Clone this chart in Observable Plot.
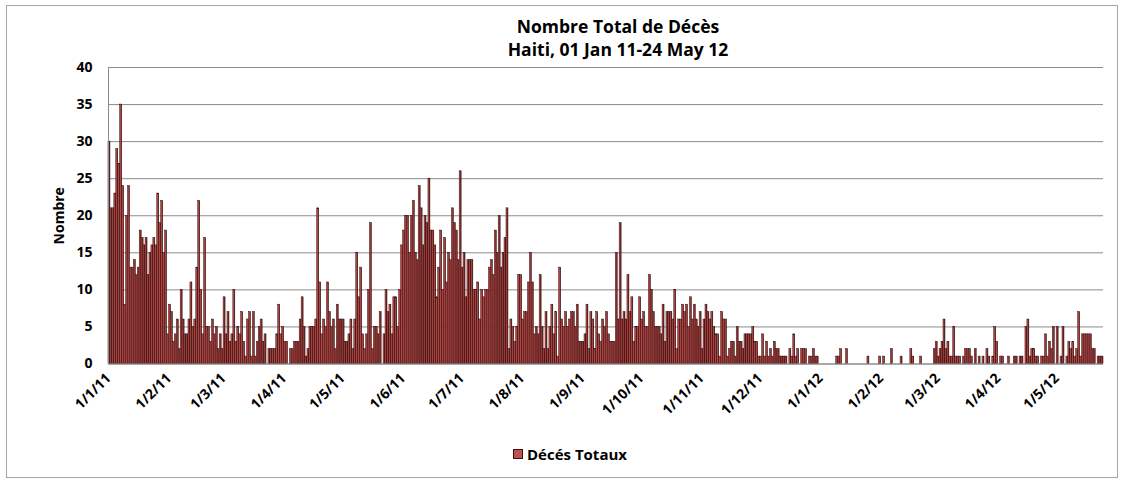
<!DOCTYPE html>
<html><head><meta charset="utf-8">
<script src="https://cdn.jsdelivr.net/npm/d3@7"></script>
<script src="https://cdn.jsdelivr.net/npm/@observablehq/plot@0.6"></script>
<style>
body{margin:0;background:#fff;font-family:"Open Sans",Lato,sans-serif;}
#wrap{position:relative;width:1122px;height:481px;overflow:hidden;background:#fff;}
#frame{position:absolute;left:6px;top:5px;width:1112px;height:473px;border:1px solid #a6a6a6;box-sizing:border-box;}
#title{position:absolute;left:418px;width:400px;top:15px;text-align:center;font-weight:bold;font-size:17.5px;line-height:23px;color:#000;}
#chart{position:absolute;left:0;top:57px;}
#legend{position:absolute;left:513px;top:444px;font-weight:bold;font-size:15px;display:flex;align-items:center;gap:4px;color:#000;}
.sw{width:8px;height:8px;background:#c0504d;border:1px solid #3b1010;}
</style></head><body>
<div id="wrap">
<div id="frame"></div>
<div id="title">Nombre Total de Décès<br>Haiti, 01 Jan 11-24 May 12</div>
<div id="chart"></div>
<div id="legend"><div class="sw"></div><span>Décés Totaux</span></div>
</div>
<script>
// Daily deaths, one array per month
const jan11 = [30,21,21,23,29,27,35,24,8,20,24,13,13,14,12,13,18,17,16,17,12,15,16,17,16,23,19,22,15,18,4];
const feb11 = [8,7,3,4,6,2,10,6,4,4,6,11,5,6,13,22,10,4,17,5,5,3,6,4,5,2,4,2];
const mar11 = [9,4,7,3,4,10,3,5,4,7,3,1,6,7,1,7,1,3,5,6,3,4,0,2,2,2,2,4,8,4,5];
const apr11 = [3,3,0,2,2,3,3,3,6,9,5,1,2,5,5,5,6,21,11,4,6,5,11,7,5,6,2,8,6,6];
const may11 = [6,3,3,4,6,2,6,15,9,13,4,2,4,10,19,2,5,5,4,7,0,4,10,7,8,4,9,9,5,10,16];
const jun11 = [18,20,20,15,20,22,15,14,24,21,16,20,19,25,18,18,16,9,13,18,10,17,11,15,14,21,19,18,14,26];
const jul11 = [13,15,9,14,14,14,10,10,11,6,10,9,10,10,13,14,12,18,15,20,13,15,17,21,2,6,5,3,5,12,12];
const aug11 = [6,7,7,11,15,11,4,5,4,12,5,2,7,2,5,8,4,7,1,13,6,5,7,5,6,7,7,5,8,3,3];
const sep11 = [3,4,8,2,7,6,2,7,4,3,6,5,7,4,3,3,3,15,6,19,6,7,6,12,7,9,3,5,5,9];
const oct11 = [6,7,5,5,12,10,7,5,5,5,4,8,3,7,7,7,6,10,2,6,6,8,7,8,5,9,6,8,6,5,7];
const nov11 = [2,6,8,7,6,7,5,4,4,1,7,6,6,1,2,3,3,1,5,3,3,2,4,4,4,4,5,3,3,1];
const dec11 = [1,4,1,3,1,2,1,3,2,2,1,1,1,1,0,2,1,4,1,2,0,2,2,2,0,1,1,2,1,1,0];
const jan12 = [0,0,0,0,0,0,0,0,1,1,2,0,0,2,0,0,0,0,0,0,0,0,0,0,1,0,0,0,0,0,1];
const feb12 = [0,1,0,0,0,2,0,0,0,0,1,0,0,0,0,2,1,0,0,0,1,0,0,0,0,0,0,2,3];
const mar12 = [1,2,3,6,2,3,1,1,5,1,1,1,0,1,2,2,2,1,0,2,0,1,0,1,0,2,1,0,1,5,3];
const apr12 = [0,1,1,0,0,1,0,0,1,1,0,1,1,0,5,6,1,2,2,1,1,0,1,1,4,1,3,2,5,0];
const may12 = [5,0,1,5,0,1,3,2,3,1,2,7,1,4,4,4,4,4,2,2,0,1,1,1];

const yTicks = [0,5,10,15,20,25,30,35,40];
const seriesName = "Décés Totaux";

const counts = [].concat(jan11,feb11,mar11,apr11,may11,jun11,jul11,aug11,sep11,oct11,nov11,dec11,jan12,feb12,mar12,apr12,may12);
const start = new Date(Date.UTC(2011,0,1));
const end = d3.utcDay.offset(start, counts.length);
const data = counts.map((v,i)=>({start:d3.utcDay.offset(start,i), end:d3.utcDay.offset(start,i+1), value:v}));
const monthTicks = d3.utcMonth.range(start, end);
const fmt = d => `${d.getUTCDate()}/${d.getUTCMonth()+1}/${String(d.getUTCFullYear()).slice(2)}`;

const chart = Plot.plot({
  width: 1122, height: 380,
  marginTop: 10, marginLeft: 108, marginRight: 19, marginBottom: 73.5,
  x: {type: "utc", domain: [start, end]},
  y: {domain: [0, 40]},
  style: {fontFamily: "'Open Sans', Lato, sans-serif", fontWeight: "bold", fontSize: "14px", color: "#000", background: "transparent"},
  marks: [
    Plot.gridY(yTicks, {stroke: "#8c8c8c", strokeOpacity: 1}),
    Plot.rectY(data.filter(d => d.value > 0), {x1: "start", x2: "end", y: "value", fill: "url(#barGrad)", stroke: "#220808", strokeWidth: 0.5}),
    Plot.ruleX([start], {stroke: "#8c8c8c"}),
    Plot.ruleY([0], {stroke: "#8c8c8c"}),
    Plot.axisY(yTicks, {tickSize: 0, tickPadding: 16, label: "Nombre", labelAnchor: "center", labelArrow: "none", labelOffset: 54, fontSize: 14}),
    Plot.axisX(monthTicks, {tickSize: 0, tickRotate: -45, tickPadding: 12, tickFormat: fmt, label: null, fontSize: 14})
  ]
});
const defs = d3.select(chart).insert("defs", ":first-child");
const g = defs.append("linearGradient").attr("id", "barGrad").attr("x1", 0).attr("x2", 1).attr("y1", 0).attr("y2", 0);
g.append("stop").attr("offset", "0%").attr("stop-color", "#dc605d");
g.append("stop").attr("offset", "45%").attr("stop-color", "#b33e3b");
g.append("stop").attr("offset", "100%").attr("stop-color", "#3a1212");
document.getElementById("chart").appendChild(chart);
</script>
</body></html>
